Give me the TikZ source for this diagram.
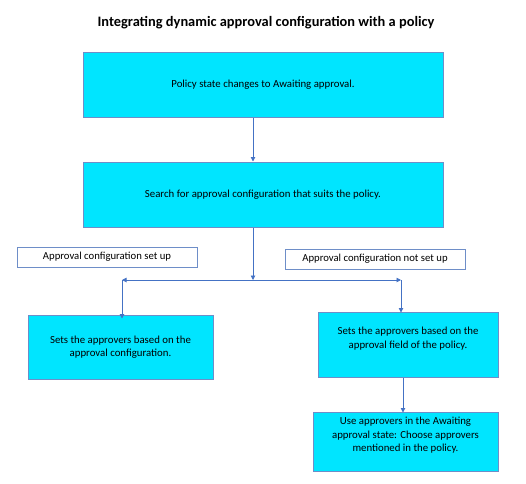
\documentclass[tikz,border=0pt]{standalone}
\usepackage{fontspec}
\setmainfont{Carlito}
\usetikzlibrary{arrows.meta}
\definecolor{boxfill}{HTML}{00E5FF}
\definecolor{boxline}{HTML}{6E8EC8}
\definecolor{arrline}{HTML}{4472C4}
\tikzset{
  box/.style={draw=boxline, fill=boxfill, line width=1pt, inner sep=0pt},
  lab/.style={draw=boxline, fill=white, line width=0.9pt, inner sep=0pt, minimum width=180pt, minimum height=20pt, font=\fontsize{10.7}{12}\selectfont},
  txt/.style={align=center, font=\fontsize{10.8}{13.5}\selectfont, inner sep=0pt},
  arr/.style={draw=arrline, line width=0.9pt, -{Triangle[width=4.5pt,length=4.5pt]}},
  ln/.style={draw=arrline, line width=0.9pt}
}
\begin{document}
\begin{tikzpicture}[x=1pt,y=-1pt]
\useasboundingbox (0,0) rectangle (526,483);
\node[font=\fontsize{14.4}{17}\selectfont\bfseries] (title) at (266,23) {Integrating dynamic approval configuration with a policy};

\node[box, minimum width=360pt, minimum height=65pt, txt] (b1) at (263,84.5) {Policy state changes to Awaiting approval.};
\node[box, minimum width=360pt, minimum height=65pt, txt] (b2) at (263,194.5) {Search for approval configuration that suits the policy.};

\node[lab] (l1) at (107,257) {Approval configuration set up};
\node[lab] (l2) at (375,259) {Approval configuration not set up};

\node[box, minimum width=185pt, minimum height=64pt, txt] (b3) at (120.5,347) {Sets the approvers based on the\\approval configuration.};
\node[box, minimum width=180pt, minimum height=65pt] (b4) at (408,344.5) {};
\node[txt] (t4) at (408,338.5) {Sets the approvers based on the\\approval field of the policy.};
\node[box, minimum width=185pt, minimum height=59pt] (b5) at (405.5,441.5) {};
\node[txt] (t5) at (405.5,435.5) {Use approvers in the Awaiting\\approval state: Choose approvers\\mentioned in the policy.};

\coordinate (j) at (253,280);
\coordinate (jl) at (122,280);
\coordinate (jr) at (401,280);
\coordinate (j4) at (403,377);

\draw[arr] (b1.south -| j) -- (b2.north -| j);
\draw[arr] (b2.south -| j) -- (j);
\draw[arr] (j) -- (jl);
\draw[arr] (j) -- (jr);
\draw[arr] (jl) -- ([yshift=-4pt]b3.north -| jl);
\draw[arr] (jr) -- ([yshift=-1pt]b4.north -| jr);
\draw[arr] (b4.south -| j4) -- ([yshift=-1pt]b5.north -| j4);
\end{tikzpicture}
\end{document}
